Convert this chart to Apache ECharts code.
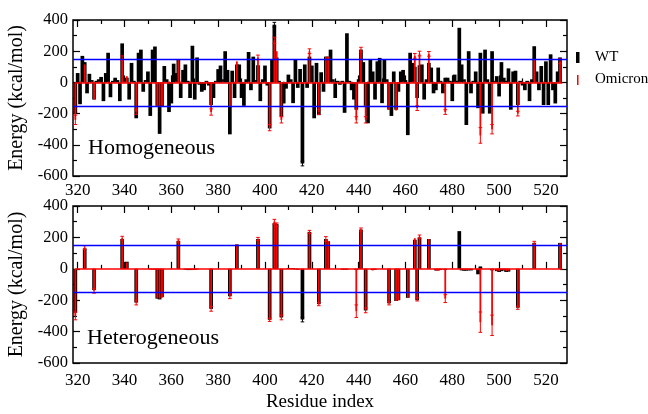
<!DOCTYPE html>
<html>
<head>
<meta charset="utf-8">
<script src="https://cdn.jsdelivr.net/npm/echarts@6/dist/echarts.min.js"></script>
<style>
  html, body { margin: 0; padding: 0; background: #fff; }
  #chart { width: 648px; height: 414px; }
</style>
</head>
<body>
<div id="chart"></div>
<script>
// Per-residue interaction energy (kcal/mol), one value per residue index 319..527
const firstResidue = 319;

// Homogeneous dielectric, WT
const wtHomo = [
  -200, 60, -140, 170, 130, -70, 55, 15, -110, 10,
  20, 35, -120, 60, 190, -95, 10, 30, 15, -120,
  250, 20, 30, -110, 125, 10, -230, 190, 210, -60,
  15, 70, -215, 210, 230, -150, -330, -155, 105, 20,
  -190, -135, 120, 60, 145, -100, 80, 115, 10, -100,
  235, -110, 160, -15, -60, -50, 10, -20, -145, -100,
  10, 85, 108, 20, 200, 80, -333, 75, -100, 115,
  115, -100, -150, 20, 195, -50, 165, 15, 110, -120,
  20, 108, -20, -295, 145, 370, 160, 10, -220, -135,
  -40, 50, 20, -133, 145, -35, 86, -520, 115, -35,
  165, 108, -230, 125, -210, 65, -60, 165, 165, 210,
  20, -100, 10, -15, 10, -195, 315, 10, -50, -110,
  -175, 20, 210, 130, -150, -262, 145, 70, -110, 135,
  157, -133, 150, 20, -175, -215, 70, -175, -60, 70,
  80, 15, -338, 190, 125, 100, -100, 110, 115, -110,
  20, 125, 95, -70, -50, 95, 10, -70, 30, 30,
  10, -120, 50, 10, 350, 115, 20, -273, 200, -70,
  10, 70, -165, 190, -200, 210, 20, -200, 200, 10,
  40, -90, 130, 30, 10, 90, -175, 70, 75, -145,
  10, -20, -50, 10, -120, 20, 232, 70, -50, 105,
  -145, 135, -145, 180, -50, -135, 70, 160, 0
];

// Homogeneous dielectric, Omicron
const omHomo = [
  -240, 0, 5, 0, 115, -5, 0, 5, -110, 0,
  5, 0, -5, 0, 5, 0, 0, 5, 0, 0,
  155, 5, 40, 0, 5, 0, -190, 5, 0, 0,
  5, 0, -5, 0, -5, -155, -155, -150, 5, 0,
  5, 0, 0, 5, 145, 5, 0, -5, 0, 5,
  0, -5, 0, 5, 0, 0, 5, -5, -190, 0,
  5, 0, 0, 5, 0, 0, -155, 0, 5, 135,
  0, 5, 0, 0, 5, 0, 0, 5, 160, 0,
  0, 5, 0, -290, 0, 270, 200, 0, -240, 5,
  0, 0, 5, 0, 0, 5, 0, -10, 0, 5,
  200, 0, 5, 0, -190, 0, 5, 165, 165, 0,
  5, 0, 0, 5, 0, 5, 0, 0, 5, 0,
  -240, 5, 210, 0, -240, 5, 0, 0, 5, 0,
  5, 0, 0, 5, -175, 0, 5, -180, -10, 0,
  5, 0, -10, 0, 5, 170, -165, 185, 0, 5,
  0, 183, 0, 5, 0, 0, 5, 0, -190, 5,
  0, 0, 5, 0, 5, 0, 5, 0, 0, 5,
  0, 0, 5, -340, 0, 5, 0, 0, -300, 5,
  0, 0, 5, 0, 0, 5, 0, 0, 5, -200,
  0, 5, 0, 0, 5, 0, 150, 5, 0, 0,
  5, 0, 0, 5, 0, 0, 5, 135, 0
];

// Heterogeneous dielectric, WT
const wtHetero = [
  -280, 0, 0, 0, 130, 0, 0, 0, -135, 0,
  0, 0, 0, 0, 0, 0, 0, 0, 0, 0,
  190, 0, 45, 0, 0, 0, -215, 0, 0, 0,
  0, 0, -3, -3, -3, -190, -195, -180, 0, 0,
  0, 0, 0, 0, 178, 0, 0, -5, -8, -8,
  -5, -5, -3, 0, 0, 0, 0, 0, -255, 0,
  0, 0, 0, 0, 0, 0, -175, 0, 0, 155,
  0, 0, 0, 0, 0, 0, 0, 0, 190, 0,
  0, 0, 0, -325, 0, 290, 285, 0, -310, 0,
  0, 5, 5, 5, -3, -5, 0, -323, 0, 0,
  235, 0, 0, 0, -225, 0, 0, 190, 175, 0,
  0, 0, 0, 0, -5, -5, -5, 0, 0, 0,
  -8, 0, 250, 0, -265, 0, 0, -8, -5, 0,
  0, 0, 0, 0, -220, 0, 0, -205, -200, 0,
  0, 0, -185, 0, 0, 185, -200, 200, 0, 0,
  0, 190, 0, 0, -10, -10, -8, 0, -8, 0,
  0, 0, 0, 0, 240, -10, -12, -12, -10, -10,
  0, 0, -35, 15, 0, 0, 0, 0, -10, 0,
  -15, -20, -15, -10, -20, -18, 0, 0, 0, -248,
  0, 0, 0, 0, 0, 0, 165, 0, 0, 0,
  0, 0, 0, 0, 0, 0, 0, 165, 0
];

// Heterogeneous dielectric, Omicron
const omHetero = [
  -300, 0, 0, 0, 135, 0, 0, 0, -140, 0,
  0, 0, 0, 0, 0, 0, 0, 0, 0, 0,
  195, 0, 40, 0, 0, 0, -215, 0, 0, 0,
  0, 0, -3, -5, -5, -185, -190, -185, 0, 0,
  0, 0, 0, 0, 180, 0, 0, -5, -5, -5,
  -8, -5, -3, 0, 0, 0, 0, 0, -255, 0,
  0, 0, 0, 0, 0, 0, -175, 0, 0, 155,
  0, 0, 0, 0, 0, 0, 0, 0, 190, 0,
  0, 0, 0, -325, 0, 300, 280, 0, -310, 0,
  0, 5, 5, 3, -3, -3, 0, -8, 0, 0,
  235, 0, 0, 0, -225, 0, 0, 190, 175, 0,
  0, 0, 0, 0, -3, -5, -3, 0, 0, 0,
  -270, 0, 250, 0, -265, 0, 0, -10, -5, 0,
  0, 0, 0, 0, -220, 0, 0, -205, -200, 0,
  0, 0, -185, 0, 0, 195, -195, 205, 0, 0,
  0, 190, 0, 0, -12, -12, -5, 0, -190, 0,
  0, 0, 0, 0, 5, -5, -8, -8, -5, -5,
  0, 0, -10, -340, 0, 0, 0, 0, -360, 0,
  -12, -15, -10, -8, -15, -12, 0, 0, 0, -248,
  0, 0, 0, 0, 0, 0, 165, 0, 0, 0,
  0, 0, 0, 0, 0, 0, 0, 165, 0
];

// Standard deviations, given only where an error bar shows
const omErrHomoRes = [319, 339, 345, 377, 397, 402, 404, 407, 419, 423, 439, 441, 443, 464, 465, 466, 470, 477, 492, 497, 508, 526];
const omErrHomo    = [30, 15, 15, 20, 15, 20, 20, 20, 15, 15, 20, 15, 20, 15, 15, 15, 15, 15, 50, 30, 15, 15];
const wtErrHomoRes = [404, 416];
const wtErrHomo    = [15, 15];
const omErrHeteroRes = [319, 323, 327, 339, 345, 363, 377, 385, 397, 402, 404, 405, 407, 419, 423, 426, 439, 441, 443, 453, 465, 466, 477, 492, 497, 508, 515];
const omErrHetero    = [25, 12, 15, 12, 15, 10, 15, 15, 10, 10, 15, 12, 15, 10, 10, 15, 40, 10, 15, 10, 10, 10, 25, 65, 65, 10, 10];
const wtErrHeteroRes = [416];
const wtErrHetero    = [15];

// Axis ticks
const xLabelTicks = [320, 340, 360, 380, 400, 420, 440, 460, 480, 500, 520];
const xMinorTicks = [330, 350, 370, 390, 410, 430, 450, 470, 490, 510];
const cutoff = 150;

const serif = "'Liberation Serif', 'Times New Roman', serif";
const lastResidue = firstResidue + wtHomo.length - 1;

function toPoints(values) {
  return values.map((v, i) => [firstResidue + i, v]);
}
function toErrPoints(resList, errList, values) {
  return resList.map((r, k) => [r, values[r - firstResidue], errList[k]]);
}

function barRenderer(width, color) {
  return function (params, api) {
    const x = api.value(0), v = api.value(1);
    if (!v) return null;
    const a = api.coord([x, 0]);
    const b = api.coord([x, v]);
    return {
      type: 'rect',
      shape: { x: a[0] - width / 2, y: Math.min(a[1], b[1]), width: width, height: Math.abs(b[1] - a[1]) },
      style: { fill: color }
    };
  };
}

function errRenderer(color, lw, cap) {
  return function (params, api) {
    const x = api.value(0), v = api.value(1), e = api.value(2);
    const lo = api.coord([x, v - e]);
    const hi = api.coord([x, v + e]);
    const st = { stroke: color, lineWidth: lw };
    return {
      type: 'group',
      children: [
        { type: 'line', shape: { x1: lo[0], y1: lo[1], x2: hi[0], y2: hi[1] }, style: st },
        { type: 'line', shape: { x1: lo[0] - cap, y1: lo[1], x2: lo[0] + cap, y2: lo[1] }, style: st },
        { type: 'line', shape: { x1: hi[0] - cap, y1: hi[1], x2: hi[0] + cap, y2: hi[1] }, style: st }
      ]
    };
  };
}

const panels = [
  { wt: wtHomo, om: omHomo, omErrRes: omErrHomoRes, omErr: omErrHomo, wtErrRes: wtErrHomoRes, wtErr: wtErrHomo },
  { wt: wtHetero, om: omHetero, omErrRes: omErrHeteroRes, omErr: omErrHetero, wtErrRes: wtErrHeteroRes, wtErr: wtErrHetero }
];

const gridBoxes = [
  { left: 73, top: 20, width: 494, height: 156 },
  { left: 73, top: 206, width: 494, height: 157 }
];
const xLabelMargin = [6, 9];

function xAxisFor(g, position, ticks, len, labels, name) {
  return {
    type: 'value', gridIndex: g, position: position,
    min: 318, max: 529,
    axisLine: { show: false },
    splitLine: { show: false },
    axisTick: { show: true, inside: true, length: len, customValues: ticks, lineStyle: { color: '#000', width: 1.2 } },
    axisLabel: { show: labels, customValues: ticks, color: '#000', fontFamily: serif, fontSize: 17, margin: xLabelMargin[g] },
    name: name || '',
    nameLocation: 'middle',
    nameGap: 30,
    nameTextStyle: { color: '#000', fontFamily: serif, fontSize: 19 }
  };
}

function yAxisFor(g, position, labels) {
  return {
    type: 'value', gridIndex: g, position: position,
    min: -600, max: 400, interval: 200,
    axisLine: { show: false },
    splitLine: { show: false },
    axisTick: { show: true, inside: true, length: 7, lineStyle: { color: '#000', width: 1.2 } },
    minorTick: { show: true, splitNumber: 2, length: 4, lineStyle: { color: '#000', width: 1.2 } },
    minorSplitLine: { show: false },
    axisLabel: { show: labels, color: '#000', fontFamily: serif, fontSize: 16.5, margin: 5 },
    name: labels ? 'Energy (kcal/mol)' : '',
    nameLocation: 'middle',
    nameGap: 44,
    nameTextStyle: { color: '#000', fontFamily: serif, fontSize: 20 }
  };
}

const grid = [], xAxis = [], yAxis = [], series = [];
panels.forEach((p, g) => {
  grid.push(Object.assign({ show: true, borderColor: '#000', borderWidth: 1.5, backgroundColor: 'transparent', containLabel: false, outerBoundsMode: 'none' }, gridBoxes[g]));
  xAxis.push(xAxisFor(g, 'bottom', xLabelTicks, 7, true, g === 1 ? 'Residue index' : ''));
  xAxis.push(xAxisFor(g, 'bottom', xMinorTicks, 4, false));
  xAxis.push(xAxisFor(g, 'top', xLabelTicks, 7, false));
  xAxis.push(xAxisFor(g, 'top', xMinorTicks, 4, false));
  yAxis.push(yAxisFor(g, 'left', true));
  yAxis.push(yAxisFor(g, 'right', false));

  const xi = g * 4, yi = g * 2;
  series.push({
    type: 'custom', name: 'WT', xAxisIndex: xi, yAxisIndex: yi, z: 2, clip: true,
    renderItem: barRenderer(3.7, '#000'), data: toPoints(p.wt), silent: true
  });
  series.push({
    type: 'custom', xAxisIndex: xi, yAxisIndex: yi, z: 2, clip: true,
    renderItem: errRenderer('#000', 1, 1.8), data: toErrPoints(p.wtErrRes, p.wtErr, p.wt), silent: true
  });
  series.push({
    type: 'custom', name: 'Omicron', xAxisIndex: xi, yAxisIndex: yi, z: 3, clip: true,
    renderItem: barRenderer(1.8, '#ff0000'), data: toPoints(p.om), silent: true,
    markLine: {
      silent: true, symbol: 'none', label: { show: false },
      lineStyle: { color: '#ff0000', width: 1.5, type: 'solid' },
      data: [[{ coord: [firstResidue, 0] }, { coord: [lastResidue, 0] }]]
    }
  });
  series.push({
    type: 'custom', xAxisIndex: xi, yAxisIndex: yi, z: 4, clip: true,
    renderItem: errRenderer('#ff0000', 1, 1.8), data: toErrPoints(p.omErrRes, p.omErr, p.om), silent: true,
    markLine: {
      silent: true, symbol: 'none', label: { show: false },
      lineStyle: { color: '#0000ff', width: 1.3, type: 'solid' },
      data: [{ yAxis: cutoff }, { yAxis: -cutoff }]
    }
  });
});

const chart = echarts.init(document.getElementById('chart'), null, { renderer: 'canvas' });
chart.setOption({
  animation: false,
  backgroundColor: '#fff',
  grid, xAxis, yAxis, series,
  graphic: [
    { type: 'text', left: 88, top: 137, style: { text: 'Homogeneous', font: '22px ' + serif, fill: '#000' } },
    { type: 'text', left: 87, top: 327, style: { text: 'Heterogeneous', font: '22px ' + serif, fill: '#000' } },
    { type: 'rect', left: 576, top: 52, shape: { width: 3.5, height: 11 }, style: { fill: '#000' } },
    { type: 'text', left: 595, top: 50, style: { text: 'WT', font: '15px ' + serif, fill: '#000' } },
    { type: 'rect', left: 577, top: 75, shape: { width: 1.5, height: 10 }, style: { fill: '#ff0000' } },
    { type: 'text', left: 595, top: 72, style: { text: 'Omicron', font: '15px ' + serif, fill: '#000' } }
  ]
});
</script>
</body>
</html>
